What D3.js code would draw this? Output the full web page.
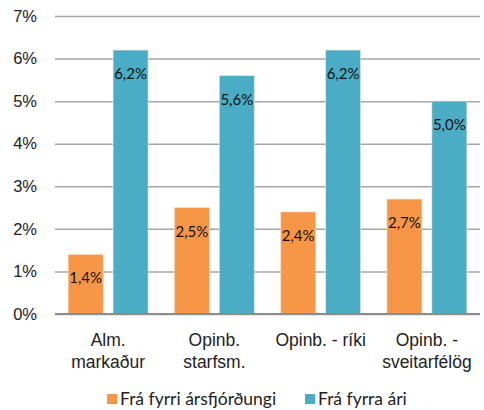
<!DOCTYPE html>
<html>
<head>
<meta charset="utf-8">
<script src="https://cdn.jsdelivr.net/npm/d3@7"></script>
<style>
  body { margin: 0; background: #fff; }
  svg { font-family: Lato, "Open Sans", sans-serif; }
</style>
</head>
<body>
<div id="chart"></div>
<script>
// chart data
const categories = [["Alm.", "markaður"], ["Opinb.", "starfsm."], ["Opinb. - ríki"], ["Opinb. -", "sveitarfélög"]];
const seriesNames = ["Frá fyrri ársfjórðungi", "Frá fyrra ári"];
const quarterValues = [1.4, 2.5, 2.4, 2.7];
const yearValues = [6.2, 5.6, 6.2, 5.0];
const yTicks = [0, 1, 2, 3, 4, 5, 6, 7];

const colors = ["#f79646", "#4bacc6"];

const width = 484, height = 410;
const margin = {top: 16, right: 4, bottom: 96, left: 55};

const svg = d3.select("#chart").append("svg")
    .attr("width", width)
    .attr("height", height);

const innerW = width - margin.left - margin.right;
const innerH = height - margin.top - margin.bottom;

const chart = svg.append("g")
    .attr("transform", `translate(${margin.left},${margin.top})`);

const x0 = d3.scaleBand()
    .domain(d3.range(categories.length))
    .range([0, innerW]);

const x1 = d3.scaleBand()
    .domain([0, 1])
    .range([x0.bandwidth() / 2 - 40, x0.bandwidth() / 2 + 40])
    .paddingInner(0.22);

const y = d3.scaleLinear()
    .domain([0, 7])
    .range([innerH, 0]);

// gridlines + y labels
const yAxis = d3.axisLeft(y)
    .tickValues(yTicks)
    .tickSize(-innerW)
    .tickPadding(18)
    .tickFormat(d => d + "%");

const yAxisG = chart.append("g").call(yAxis);
yAxisG.select(".domain").remove();
yAxisG.selectAll(".tick line")
    .attr("stroke", "#a6a6a6")
    .attr("stroke-width", 1.5);
yAxisG.selectAll(".tick text")
    .attr("fill", "#222")
    .style("font-size", "16.5px");

const rows = categories.map((c, i) => ({cat: i, vals: [quarterValues[i], yearValues[i]]}));

const groups = chart.selectAll(".grp")
    .data(rows)
    .join("g")
    .attr("class", "grp")
    .attr("transform", d => `translate(${x0(d.cat)},0)`);

groups.selectAll("rect")
    .data(d => d.vals.map((v, s) => ({v, s})))
    .join("rect")
    .attr("x", d => x1(d.s))
    .attr("y", d => y(d.v))
    .attr("width", x1.bandwidth())
    .attr("height", d => innerH - y(d.v))
    .attr("fill", d => colors[d.s])
    .attr("stroke", "#fde9d9")
    .attr("stroke-opacity", 0.6)
    .attr("stroke-width", 1);

groups.selectAll(".val")
    .data(d => d.vals.map((v, s) => ({v, s})))
    .join("text")
    .attr("class", "val")
    .attr("x", d => x1(d.s) + x1.bandwidth() / 2)
    .attr("y", d => y(d.v) + 29)
    .attr("text-anchor", "middle")
    .attr("fill", "#111")
    .style("font-size", "15px")
    .text(d => d.v.toFixed(1).replace(".", ",") + "%");

// baseline
chart.append("line")
    .attr("x1", 0).attr("x2", innerW)
    .attr("y1", y(0)).attr("y2", y(0))
    .attr("stroke", "#8c8c8c")
    .attr("stroke-width", 2);

// category labels
const xAxis = d3.axisBottom(x0).tickSize(0).tickFormat("");
const xAxisG = chart.append("g")
    .attr("transform", `translate(0,${innerH})`)
    .call(xAxis);
xAxisG.select(".domain").remove();
xAxisG.selectAll(".tick").each(function(d) {
    const t = d3.select(this).append("text")
        .attr("text-anchor", "middle")
        .attr("fill", "#222")
        .style("font-size", "17.5px");
    categories[d].forEach((line, k) => {
        t.append("tspan")
            .attr("x", 0)
            .attr("y", 32 + k * 22)
            .text(line);
    });
});

// legend
const legendX = [107, 305];
const legend = svg.append("g")
    .attr("transform", `translate(0,${height - 11})`);
seriesNames.forEach((name, i) => {
    legend.append("rect")
        .attr("x", legendX[i])
        .attr("y", -5)
        .attr("width", 10)
        .attr("height", 10)
        .attr("fill", colors[i]);
    legend.append("text")
        .attr("x", legendX[i] + 13)
        .attr("y", 6)
        .attr("fill", "#222")
        .style("font-size", "17.5px")
        .text(name);
});
</script>
</body>
</html>
